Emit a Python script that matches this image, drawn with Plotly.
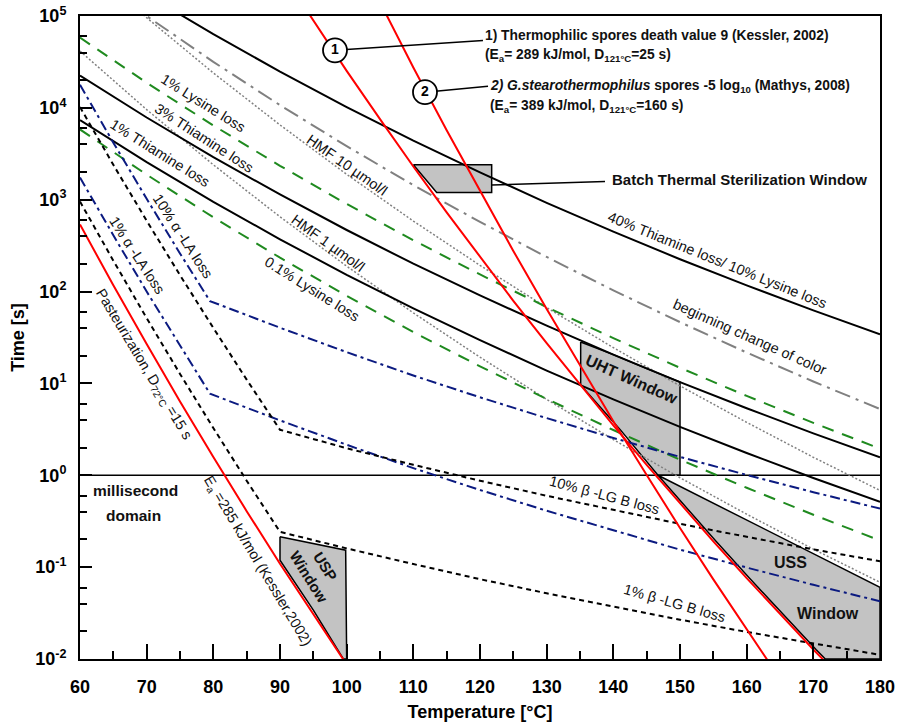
import plotly.graph_objects as go

# ── Kinetic curves (time in s, temperature in °C) ──
temp = [60, 70, 80, 90, 100, 110, 120, 130, 140, 150, 160, 170, 180]

thiamine_40 = [491000, 171000, 63400, 24800, 10200, 4390, 1980, 925, 449, 225, 117, 62.4, 34.3]
thiamine_3 = [22500, 7850, 2910, 1140, 468, 201, 90.8, 42.5, 20.6, 10.35, 5.37, 2.86, 1.57]
thiamine_1 = [7350, 2560, 948, 371, 152, 65.6, 29.6, 13.8, 6.71, 3.37, 1.75, 0.933, 0.513]
lysine_1 = [58200, 18750, 6430, 2340, 899, 362, 153.5, 67.8, 31.1, 14.8, 7.31, 3.72, 1.95]
lysine_01 = [5820, 1875, 643, 234, 89.9, 36.2, 15.35, 6.78, 3.11, 1.48, 0.731, 0.372, 0.195]
hmf_10 = [415000, 95700, 24000, 6520, 1890, 586, 193, 67.0, 24.5, 9.40, 3.77, 1.57, 0.684]
hmf_1 = [41500, 9570, 2400, 652, 189, 58.6, 19.3, 6.70, 2.45, 0.940, 0.377, 0.157, 0.0684]
color_change = [338000, 100000, 31700, 10700, 3830, 1440, 573, 238, 103, 46.5, 21.7, 10.5, 5.26]

temp_la = [60, 65, 70, 75, 79.5, 90, 100, 110, 120, 130, 140, 150, 160, 170, 180]
alpha_la_10 = [17800, 4180, 1023, 260, 78.7, 40.4, 21.9, 12.2, 7.06, 4.19, 2.55, 1.585, 1.01, 0.655, 0.434]
alpha_la_1 = [1745, 410, 100, 25.5, 7.72, 3.96, 2.15, 1.196, 0.692, 0.411, 0.25, 0.155, 0.099, 0.0642, 0.0425]

temp_lg = [60, 65, 70, 75, 80, 85, 90, 100, 110, 120, 130, 140, 150, 160, 170, 180]
beta_lg_10 = [10200, 2400, 590, 151, 40.2, 11.0, 3.13, 1.97, 1.30, 0.873, 0.598, 0.417, 0.296, 0.214, 0.156, 0.116]
beta_lg_1 = [955, 217, 51.4, 12.7, 3.27, 0.873, 0.242, 0.160, 0.108, 0.0740, 0.0519, 0.0370, 0.0268, 0.0197, 0.0147, 0.0111]

temp_past = [60, 65, 70, 75, 80, 85, 90, 95, 100]
pasteurization = [537, 117, 26.8, 6.37, 1.585, 0.407, 0.109, 0.0303, 0.0087]

temp_kessler = [90, 95, 100, 105, 110, 115, 120, 125, 130, 135, 140, 145, 150, 155, 160, 165, 170, 175]
kessler = [317000, 88100, 25300, 7530, 2301, 728, 238, 79.3, 27.4, 9.64, 3.49, 1.30,
           0.492, 0.191, 0.0760, 0.0308, 0.0127, 0.00538]
temp_mathys = [100, 105, 110, 115, 120, 125, 130, 135, 140, 145, 150, 155, 160, 165]
mathys = [726000, 138700, 27480, 5715, 1236, 276.7, 64.6, 15.6, 3.88, 1.005, 0.267, 0.0736, 0.0209, 0.00608]

# ── process windows (polygon corners) ──
batch_x = [110, 121.75, 121.75, 113.5, 110]
batch_y = [2400, 2400, 1200, 1200, 2400]
uht_x = [135.1, 140, 145, 150, 150, 146.7, 141, 135.1, 135.1]
uht_y = [28.2, 20.6, 14.5, 10.35, 1.0, 1.0, 3.16, 9.6, 28.2]
uss_x = [146.7, 180, 180, 171.8, 170.4, 165.4, 160.4, 155.4, 150.4, 146.7]
uss_y = [1.0, 0.0603, 0.01, 0.01, 0.0127, 0.0308, 0.076, 0.191, 0.492, 1.0]
usp_x = [90, 99.85, 100, 99.5, 95, 90, 90]
usp_y = [0.214, 0.153, 0.01, 0.01, 0.034, 0.119, 0.214]

# y tick labels
y_ticks = [0.01, 0.1, 1, 10, 100, 1000, 10000, 100000]
y_ticktext = ["10<sup>-2</sup>", "10<sup>-1</sup>", "10<sup>0</sup>", "10<sup>1</sup>",
              "10<sup>2</sup>", "10<sup>3</sup>", "10<sup>4</sup>", "10<sup>5</sup>"]

FONT = "Liberation Sans, Arial, sans-serif"
GREEN = "#1f8a1f"
NAVY = "#0b1a80"
GRAY = "#808080"

fig = go.Figure()

for wx, wy in [(batch_x, batch_y), (uht_x, uht_y), (uss_x, uss_y), (usp_x, usp_y)]:
    fig.add_trace(go.Scatter(x=wx, y=wy, mode="lines", fill="toself",
                             fillcolor="#c3c3c3", line=dict(color="black", width=1.5),
                             hoverinfo="skip"))

# limit of the millisecond domain
fig.add_trace(go.Scatter(x=[60, 180], y=[1, 1], mode="lines",
                         line=dict(color="black", width=1.5)))

curves = [
    (temp, hmf_10, dict(color=GRAY, width=1.5, dash="2px,2px")),
    (temp, hmf_1, dict(color=GRAY, width=1.5, dash="2px,2px")),
    (temp, color_change, dict(color=GRAY, width=2, dash="16px,6px,3px,6px")),
    (temp, lysine_1, dict(color=GREEN, width=2, dash="12px,9px")),
    (temp, lysine_01, dict(color=GREEN, width=2, dash="12px,9px")),
    (temp, thiamine_40, dict(color="black", width=2)),
    (temp, thiamine_3, dict(color="black", width=2)),
    (temp, thiamine_1, dict(color="black", width=2)),
    (temp_la, alpha_la_10, dict(color=NAVY, width=2, dash="10px,4px,3px,4px")),
    (temp_la, alpha_la_1, dict(color=NAVY, width=2, dash="10px,4px,3px,4px")),
    (temp_lg, beta_lg_10, dict(color="black", width=2, dash="5px,4px")),
    (temp_lg, beta_lg_1, dict(color="black", width=2, dash="5px,4px")),
    (temp_past, pasteurization, dict(color="#ff0000", width=2)),
    (temp_kessler, kessler, dict(color="#ff0000", width=2)),
    (temp_mathys, mathys, dict(color="#ff0000", width=2)),
]
for cx, cy, style in curves:
    fig.add_trace(go.Scatter(x=cx, y=cy, mode="lines", line=style, hoverinfo="skip"))

# leader lines to the spore legends and the batch window
for lx, ly in [([98.25, 120.45], [42300, 54200]),
               ([111.75, 121.2], [14800, 17200]),
               ([121.75, 138.75], [1445, 1574])]:
    fig.add_trace(go.Scatter(x=lx, y=ly, mode="lines", line=dict(color="black", width=1.5)))

fig.add_trace(go.Scatter(
    x=[98.25, 111.75], y=[42300, 14800], mode="markers+text", text=["1", "2"],
    textposition="middle center",
    textfont=dict(family=FONT, size=14, color="black", weight="bold"),
    marker=dict(size=24, color="white", line=dict(color="black", width=1.8)),
))


def label(text, x, ylog, angle=0, size=14.5, bold=False, xanchor="center"):
    fig.add_annotation(x=x, y=ylog, xref="x", yref="y", text=text, showarrow=False,
                       textangle=angle, xanchor=xanchor, yanchor="middle",
                       font=dict(family=FONT, size=size, color="#111111",
                                 weight="bold" if bold else "normal"))


label("1% Lysine loss", 78.45, 4.05, 32)
label("3% Thiamine loss", 78.6, 3.67, 33)
label("1% Thiamine loss", 72.0, 3.51, 32)
label("HMF 10 µmol/l", 100.05, 3.38, 35)
label("HMF 1 µmol/l", 97.2, 2.53, 36)
label("0.1% Lysine loss", 94.8, 2.03, 32)
label("10% α -LA loss", 75.45, 2.61, 57)
label("1% α -LA loss", 68.55, 2.40, 57)
label("Pasteurization, D<sub>72°C</sub> =15 s", 69.45, 1.21, 59)
label("E<sub>a</sub> =285 kJ/mol (Kessler,2002)", 86.6, -0.93, 59)
label("40% Thiamine loss/ 10% Lysine loss", 155.55, 2.34, 22)
label("beginning change of color", 160.5, 1.51, 24)
label("10% β -LG B loss", 138.6, -0.21, 15)
label("1% β -LG B loss", 149.1, -1.39, 16)
label("UHT Window", 142.75, 1.04, 24, size=16, bold=True)
label("USS", 166.5, -0.95, size=16, bold=True)
label("Window", 172.2, -1.50, size=16, bold=True)
label("USP<br>Window", 95.5, -1.05, 58, size=15, bold=True)
label("millisecond", 68.25, -0.17, size=15.5, bold=True)
label("domain", 67.95, -0.44, size=15.5, bold=True)
label("1) Thermophilic spores death value 9 (Kessler, 2002)", 120.45, 4.79, size=13.8, bold=True, xanchor="left")
label("(E<sub>a</sub>= 289 kJ/mol, D<sub>121°C</sub>=25 s)", 120.45, 4.57, size=13.8, bold=True, xanchor="left")
label("<i>2) G.stearothermophilus</i> spores -5 log<sub>10</sub> (Mathys, 2008)", 121.2, 4.235,
      size=13.8, bold=True, xanchor="left")
label("(E<sub>a</sub>= 389 kJ/mol, D<sub>121°C</sub>=160 s)", 121.2, 4.02, size=13.8, bold=True, xanchor="left")
label("Batch Thermal Sterilization Window", 139.5, 3.216, size=15, bold=True, xanchor="left")

minor_y = [m * 10 ** k for k in range(-2, 5) for m in (2, 4, 6)]

fig.update_layout(
    width=899, height=727,
    margin=dict(l=80, r=19, t=16, b=68),
    paper_bgcolor="white", plot_bgcolor="white",
    showlegend=False,
    font=dict(family=FONT, color="black"),
    xaxis=dict(
        range=[60, 180], tick0=60, dtick=10, showgrid=False, zeroline=False,
        automargin=False, ticklabeloverflow="allow",
        showline=True, linewidth=2, linecolor="black", mirror=True,
        ticks="inside", ticklen=15, tickwidth=2, tickcolor="black",
        ticklabelstandoff=10,
        tickfont=dict(size=18, weight="bold", color="black"),
        minor=dict(dtick=5, ticks="inside", ticklen=8, tickwidth=1.5, tickcolor="black"),
        title=dict(text="Temperature [°C]", standoff=10,
                   font=dict(size=18, weight="bold", color="black")),
    ),
    yaxis=dict(
        type="log", range=[-2, 5], tickmode="array", tickvals=y_ticks, ticktext=y_ticktext,
        showgrid=False, zeroline=False, automargin=False, ticklabeloverflow="allow",
        showline=True, linewidth=2, linecolor="black", mirror=True,
        ticks="inside", ticklen=12, tickwidth=2, tickcolor="black",
        ticklabelstandoff=8,
        tickfont=dict(size=18, weight="bold", color="black"),
        minor=dict(tickvals=minor_y, ticks="inside", ticklen=7, tickwidth=1.5, tickcolor="black"),
        title=dict(text="Time [s]", standoff=6,
                   font=dict(size=18, weight="bold", color="black")),
    ),
)

# drop the default page margin so the figure sits at the window's top-left corner
fig.write_html("out.html", config={"displayModeBar": False},
               post_script="document.body.style.margin = '0';")
